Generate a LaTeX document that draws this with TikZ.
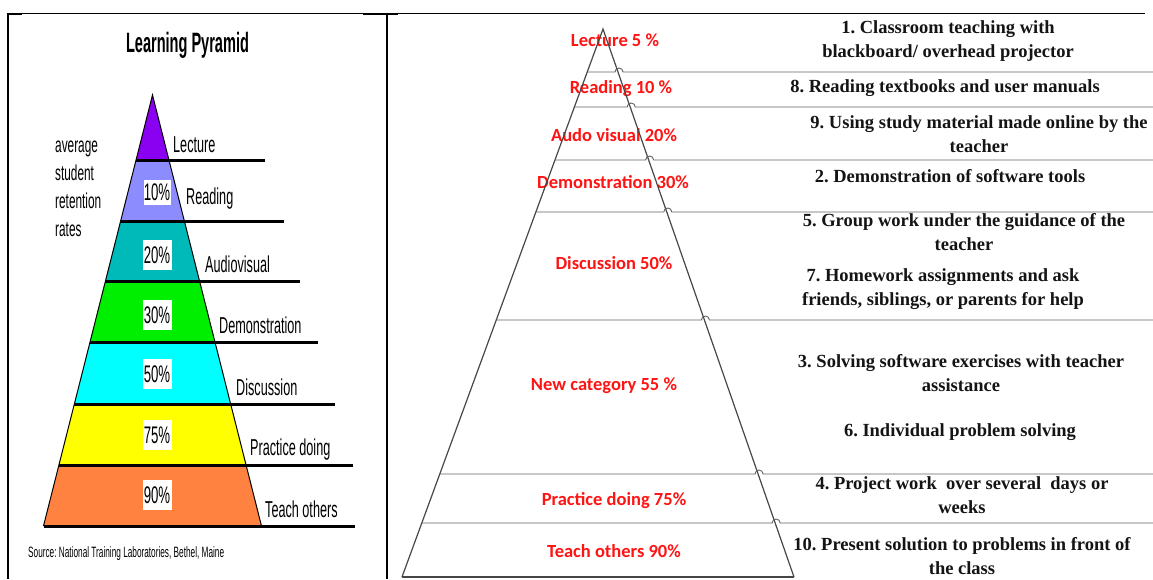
\documentclass[tikz,border=0pt]{standalone}
\usepackage{fontspec}
\usepackage{xcolor}
\usepackage{tikz}
\usetikzlibrary{positioning,calc}
\setmainfont{Liberation Serif}
\newfontfamily\narrowsans[FakeStretch=0.55]{Liberation Sans}
\newfontfamily\titlesans[FakeStretch=0.52]{Liberation Sans}
\newfontfamily\calib{Carlito}
\definecolor{lecpurple}{RGB}{138,0,240}
\definecolor{rdgblue}{RGB}{140,140,255}
\definecolor{avteal}{RGB}{0,185,185}
\definecolor{demgreen}{RGB}{0,238,0}
\definecolor{discyan}{RGB}{0,255,255}
\definecolor{pracyellow}{RGB}{255,255,0}
\definecolor{teachorange}{RGB}{255,130,64}
\definecolor{lblred}{RGB}{255,20,20}

\begin{document}
\frenchspacing
\begin{tikzpicture}[
  x=1pt,y=-1pt,
  declare function={lx(\t)=152.5-0.2529*(\t-95); rx(\t)=152.5+0.2529*(\t-95);
                    plx(\t)=603-0.3668*(\t-29); prx(\t)=603+0.3485*(\t-29);},
  % --- left panel: the coloured pyramid ---
  frame/.style  ={line width=2pt,black},
  sepline/.style={line width=3pt,black},
  edgeln/.style ={line width=1pt,black},
  lbl/.style    ={font=\narrowsans\fontsize{23}{23}\selectfont,anchor=base west,inner sep=0pt},
  side/.style   ={font=\narrowsans\fontsize{21.5}{21.5}\selectfont,anchor=base west,inner sep=0pt},
  pct/.style    ={fill=white,font=\narrowsans\fontsize{24}{24}\selectfont,
                  minimum width=29pt,minimum height=30pt,inner sep=0pt},
  % --- right panel: the outlined pyramid ---
  rline/.style  ={line width=1.2pt,draw=black!72},
  hline/.style  ={line width=0.9pt,draw=black!62},
  redlbl/.style ={font=\calib\bfseries\fontsize{18.5}{18.5}\selectfont,text=lblred,
                  anchor=base,inner sep=0pt},
  item/.style   ={font=\bfseries\fontsize{18.5}{24}\selectfont,align=center,
                  inner sep=0pt,text=black!92},
]
\useasboundingbox (0,0) rectangle (1153,579);
\fill[white] (0,0) rectangle (1153,579);

% ================================ frame ====================================
\draw[line width=0.8pt] (8,13.5) -- (1145,13.5);
\draw[line width=2.5pt] (7,14) -- (22,14);
\draw[line width=2.5pt] (363,14) -- (398,14);
\draw[frame] (8,13) -- (8,579);
\draw[frame] (387,13) -- (387,579);

% ============================ left pyramid =================================
\node[font=\titlesans\bfseries\fontsize{28}{28}\selectfont,anchor=base,inner sep=0pt]
  (title) at (187.5,52) {Learning Pyramid};

\foreach \yt/\yb/\col in {95/160/lecpurple,160/221/rdgblue,221/281/avteal,
    281/342/demgreen,342/404/discyan,404/465/pracyellow,465/526/teachorange}
  \fill[\col] ({lx(\yt)},\yt) -- ({rx(\yt)},\yt) -- ({rx(\yb)},\yb) -- ({lx(\yb)},\yb) -- cycle;

\draw[edgeln] ({lx(526)},526) -- (152.5,95) -- ({rx(526)},526);

\foreach \yb/\xe in {160/265,221/284,281/300,342/318,404/335,465/353,526/355}
  \draw[sepline] ({lx(\yb)},\yb) -- (\xe,\yb);

\foreach \x/\y/\t [count=\i] in {173/152/Lecture,186/204/Reading,205/272/Audiovisual,
    219/333/Demonstration,236/395/Discussion,250/455/Practice doing,265/517/Teach others}
  \node[lbl] (lbl\i) at (\x,\y) {\t};

\node[pct,minimum width=27pt,minimum height=25pt] (pct1) at (157,192) {10\%};
\foreach \y/\t [count=\i from 2] in {255/20\%,315/30\%,374/50\%,435/75\%,495/90\%}
  \node[pct] (pct\i) at (157,\y) {\t};

\foreach \w [count=\i] in {average,student,retention,rates}
  \node[side] (rate\i) at (55,{124+28*\i}) {\w};

\node[font=\narrowsans\fontsize{15}{15}\selectfont,anchor=base west,inner sep=0pt]
  (src) at (28,557) {Source: National Training Laboratories, Bethel, Maine};

% ============================ right pyramid ================================
\foreach \x/\y/\t [count=\i] in {615/46/Lecture 5 \%,621/93/Reading 10 \%,
    614/141/Audo visual 20\%,613/188/Demonstration 30\%,614/269/Discussion 50\%,
    604/390/New category 55 \%,614/505/Practice doing 75\%,614/557/Teach others 90\%}
  \node[redlbl] (cat\i) at (\x,\y) {\t};

\draw[rline] ({plx(577)},577) -- (603,29) -- ({prx(577)},577);
\draw[rline] ({plx(577)},577) -- ({prx(577)},577);

% level lines hop over the right edge
\foreach \y in {72,107,160,212,320,474,523}
  \draw[hline] ({plx(\y)},\y) -- ({prx(\y)-3},\y)
    arc[start angle=180,end angle=360,radius=4] -- (1153,\y);

% =========================== activity texts ================================
\node[item] (act1)  at (948,41)  {1. Classroom teaching with\\blackboard/ overhead projector};
\node[item] (act8)  at (945,88)  {8. Reading textbooks and user manuals};
\node[item] (act9)  at (979,134) {9. Using study material made online by the\\teacher};
\node[item] (act2)  at (950,176) {2. Demonstration of software tools};
\node[item] (act5)  at (964,232) {5. Group work under the guidance of the\\teacher};
\node[item] (act7)  at (943,289) {7. Homework assignments and ask\\friends, siblings, or parents for help};
\node[item] (act3)  at (961,373) {3. Solving software exercises with teacher\\assistance};
\node[item] (act6)  at (960,432) {6. Individual problem solving};
\node[item] (act4)  at (962,495) {4. Project work~ over several~ days or\\weeks};
\node[item] (act10) at (962,556) {10. Present solution to problems in front of\\the class};

\end{tikzpicture}
\end{document}
